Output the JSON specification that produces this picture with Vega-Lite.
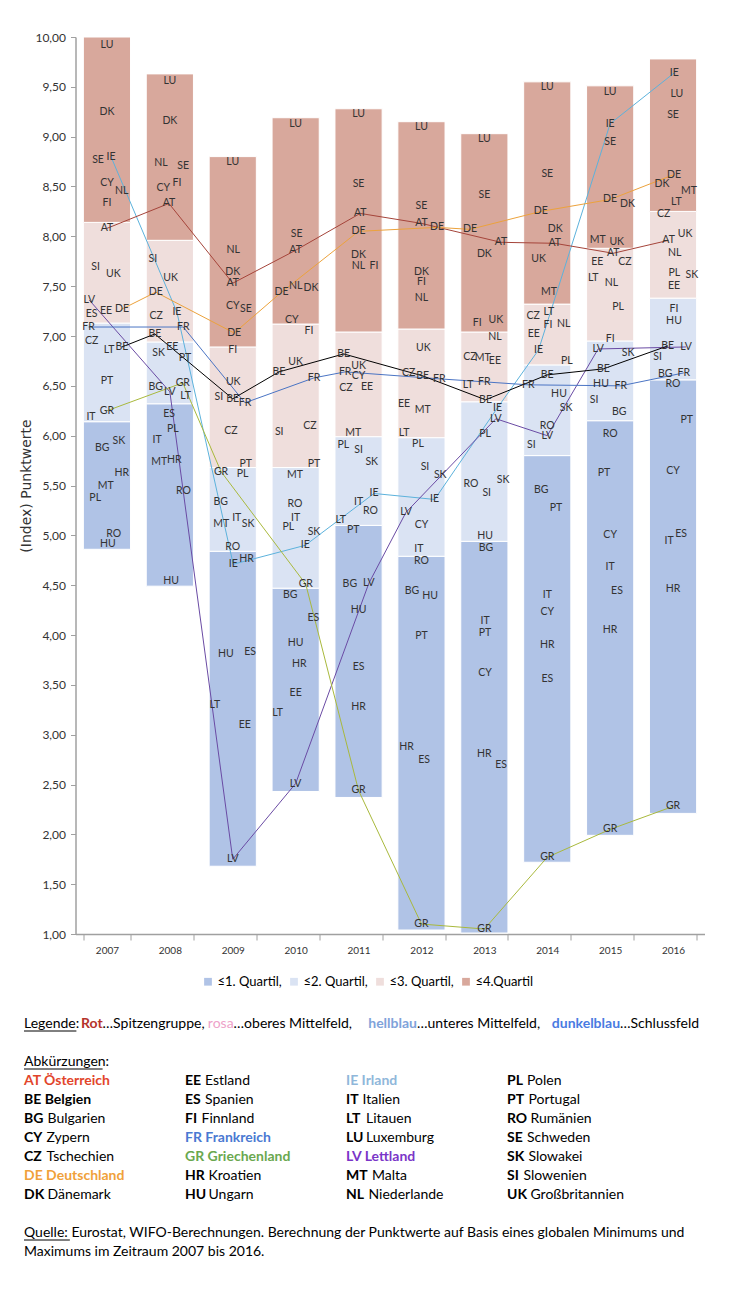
{
  "$schema": "https://vega.github.io/schema/vega-lite/v6.json",
  "width": 629,
  "height": 897,
  "autosize": {"type": "none"},
  "padding": {"left": 75.5, "top": 37, "right": 34.5, "bottom": 356},
  "background": "white",
  "config": {"view": {"stroke": null}},
  "datasets": {
    "bars": [
      {"year":"2007","q":"≤1. Quartil","v":4.86,"hi":6.14},{"year":"2007","q":"≤2. Quartil","v":6.14,"hi":7.13},{"year":"2007","q":"≤3. Quartil","v":7.13,"hi":8.14},{"year":"2007","q":"≤4.Quartil","v":8.14,"hi":10.0},
      {"year":"2008","q":"≤1. Quartil","v":4.49,"hi":6.32},{"year":"2008","q":"≤2. Quartil","v":6.32,"hi":6.94},{"year":"2008","q":"≤3. Quartil","v":6.94,"hi":7.96},{"year":"2008","q":"≤4.Quartil","v":7.96,"hi":9.63},
      {"year":"2009","q":"≤1. Quartil","v":1.68,"hi":4.84},{"year":"2009","q":"≤2. Quartil","v":4.84,"hi":5.68},{"year":"2009","q":"≤3. Quartil","v":5.68,"hi":6.89},{"year":"2009","q":"≤4.Quartil","v":6.89,"hi":8.8},
      {"year":"2010","q":"≤1. Quartil","v":2.43,"hi":4.47},{"year":"2010","q":"≤2. Quartil","v":4.47,"hi":5.68},{"year":"2010","q":"≤3. Quartil","v":5.68,"hi":7.12},{"year":"2010","q":"≤4.Quartil","v":7.12,"hi":9.19},
      {"year":"2011","q":"≤1. Quartil","v":2.37,"hi":5.1},{"year":"2011","q":"≤2. Quartil","v":5.1,"hi":5.99},{"year":"2011","q":"≤3. Quartil","v":5.99,"hi":7.04},{"year":"2011","q":"≤4.Quartil","v":7.04,"hi":9.28},
      {"year":"2012","q":"≤1. Quartil","v":1.04,"hi":4.79},{"year":"2012","q":"≤2. Quartil","v":4.79,"hi":5.98},{"year":"2012","q":"≤3. Quartil","v":5.98,"hi":7.07},{"year":"2012","q":"≤4.Quartil","v":7.07,"hi":9.15},
      {"year":"2013","q":"≤1. Quartil","v":1.01,"hi":4.94},{"year":"2013","q":"≤2. Quartil","v":4.94,"hi":6.34},{"year":"2013","q":"≤3. Quartil","v":6.34,"hi":7.04},{"year":"2013","q":"≤4.Quartil","v":7.04,"hi":9.03},
      {"year":"2014","q":"≤1. Quartil","v":1.72,"hi":5.8},{"year":"2014","q":"≤2. Quartil","v":5.8,"hi":6.71},{"year":"2014","q":"≤3. Quartil","v":6.71,"hi":7.32},{"year":"2014","q":"≤4.Quartil","v":7.32,"hi":9.55},
      {"year":"2015","q":"≤1. Quartil","v":1.99,"hi":6.15},{"year":"2015","q":"≤2. Quartil","v":6.15,"hi":6.95},{"year":"2015","q":"≤3. Quartil","v":6.95,"hi":7.88},{"year":"2015","q":"≤4.Quartil","v":7.88,"hi":9.51},
      {"year":"2016","q":"≤1. Quartil","v":2.21,"hi":6.56},{"year":"2016","q":"≤2. Quartil","v":6.56,"hi":7.38},{"year":"2016","q":"≤3. Quartil","v":7.38,"hi":8.25},{"year":"2016","q":"≤4.Quartil","v":8.25,"hi":9.78}
    ],
    "labels": [
      {"year":"2007","c":"LU","v":9.92,"o":0},{"year":"2007","c":"DK","v":9.25,"o":0},{"year":"2007","c":"SE","v":8.77,"o":-0.38},{"year":"2007","c":"IE","v":8.8,"o":0.17},{"year":"2007","c":"CY","v":8.54,"o":0},{"year":"2007","c":"NL","v":8.45,"o":0.63},{"year":"2007","c":"FI","v":8.33,"o":0},{"year":"2007","c":"AT","v":8.08,"o":0},{"year":"2007","c":"SI","v":7.69,"o":-0.48},{"year":"2007","c":"UK","v":7.62,"o":0.27},{"year":"2007","c":"LV","v":7.36,"o":-0.75},{"year":"2007","c":"ES","v":7.22,"o":-0.65},{"year":"2007","c":"EE","v":7.25,"o":-0.04},{"year":"2007","c":"DE","v":7.27,"o":0.64},{"year":"2007","c":"FR","v":7.09,"o":-0.78},{"year":"2007","c":"CZ","v":6.95,"o":-0.65},{"year":"2007","c":"LT","v":6.86,"o":0.09},{"year":"2007","c":"BE","v":6.89,"o":0.64},{"year":"2007","c":"PT","v":6.55,"o":0},{"year":"2007","c":"GR","v":6.25,"o":0},{"year":"2007","c":"IT","v":6.19,"o":-0.68},{"year":"2007","c":"BG","v":5.88,"o":-0.2},{"year":"2007","c":"SK","v":5.95,"o":0.51},{"year":"2007","c":"HR","v":5.63,"o":0.63},{"year":"2007","c":"MT","v":5.49,"o":-0.05},{"year":"2007","c":"PL","v":5.37,"o":-0.5},{"year":"2007","c":"RO","v":5.01,"o":0.29},{"year":"2007","c":"HU","v":4.91,"o":0.04},
      {"year":"2008","c":"LU","v":9.56,"o":0},{"year":"2008","c":"DK","v":9.16,"o":0},{"year":"2008","c":"NL","v":8.74,"o":-0.38},{"year":"2008","c":"SE","v":8.71,"o":0.57},{"year":"2008","c":"CY","v":8.48,"o":-0.28},{"year":"2008","c":"FI","v":8.54,"o":0.3},{"year":"2008","c":"AT","v":8.33,"o":-0.04},{"year":"2008","c":"SI","v":7.77,"o":-0.72},{"year":"2008","c":"UK","v":7.58,"o":0.03},{"year":"2008","c":"DE","v":7.44,"o":-0.6},{"year":"2008","c":"CZ","v":7.2,"o":-0.58},{"year":"2008","c":"IE","v":7.24,"o":0.3},{"year":"2008","c":"FR","v":7.09,"o":0.57},{"year":"2008","c":"BE","v":7.02,"o":-0.64},{"year":"2008","c":"SK","v":6.83,"o":-0.48},{"year":"2008","c":"EE","v":6.89,"o":0.1},{"year":"2008","c":"PT","v":6.78,"o":0.64},{"year":"2008","c":"BG","v":6.49,"o":-0.6},{"year":"2008","c":"LV","v":6.44,"o":0},{"year":"2008","c":"GR","v":6.53,"o":0.55},{"year":"2008","c":"LT","v":6.4,"o":0.67},{"year":"2008","c":"ES","v":6.22,"o":-0.03},{"year":"2008","c":"PL","v":6.07,"o":0.13},{"year":"2008","c":"IT","v":5.96,"o":-0.54},{"year":"2008","c":"MT","v":5.74,"o":-0.45},{"year":"2008","c":"HR","v":5.76,"o":0.19},{"year":"2008","c":"RO","v":5.44,"o":0.58},{"year":"2008","c":"HU","v":4.54,"o":0.05},
      {"year":"2009","c":"LU","v":8.75,"o":0},{"year":"2009","c":"NL","v":7.86,"o":0.02},{"year":"2009","c":"DK","v":7.64,"o":0},{"year":"2009","c":"AT","v":7.53,"o":0},{"year":"2009","c":"CY","v":7.3,"o":0},{"year":"2009","c":"SE","v":7.27,"o":0.56},{"year":"2009","c":"DE","v":7.03,"o":0.06},{"year":"2009","c":"FI","v":6.86,"o":0},{"year":"2009","c":"UK","v":6.54,"o":0.02},{"year":"2009","c":"SI","v":6.39,"o":-0.59},{"year":"2009","c":"BE","v":6.37,"o":0},{"year":"2009","c":"FR","v":6.33,"o":0.52},{"year":"2009","c":"CZ","v":6.05,"o":-0.08},{"year":"2009","c":"PT","v":5.72,"o":0.55},{"year":"2009","c":"GR","v":5.64,"o":-0.5},{"year":"2009","c":"PL","v":5.62,"o":0.42},{"year":"2009","c":"BG","v":5.33,"o":-0.51},{"year":"2009","c":"MT","v":5.11,"o":-0.49},{"year":"2009","c":"IT","v":5.17,"o":0.17},{"year":"2009","c":"SK","v":5.11,"o":0.65},{"year":"2009","c":"RO","v":4.88,"o":0},{"year":"2009","c":"IE","v":4.71,"o":0.02},{"year":"2009","c":"HR","v":4.76,"o":0.59},{"year":"2009","c":"HU","v":3.81,"o":-0.29},{"year":"2009","c":"ES","v":3.83,"o":0.74},{"year":"2009","c":"LT","v":3.3,"o":-0.76},{"year":"2009","c":"EE","v":3.1,"o":0.51},{"year":"2009","c":"LV","v":1.75,"o":0},
      {"year":"2010","c":"LU","v":9.13,"o":0},{"year":"2010","c":"SE","v":8.02,"o":0.04},{"year":"2010","c":"AT","v":7.86,"o":0},{"year":"2010","c":"DE","v":7.44,"o":-0.6},{"year":"2010","c":"NL","v":7.5,"o":0},{"year":"2010","c":"DK","v":7.48,"o":0.65},{"year":"2010","c":"CY","v":7.16,"o":-0.16},{"year":"2010","c":"FI","v":7.05,"o":0.57},{"year":"2010","c":"UK","v":6.74,"o":0},{"year":"2010","c":"BE","v":6.64,"o":-0.71},{"year":"2010","c":"FR","v":6.58,"o":0.78},{"year":"2010","c":"SI","v":6.04,"o":-0.7},{"year":"2010","c":"CZ","v":6.1,"o":0.61},{"year":"2010","c":"PT","v":5.72,"o":0.78},{"year":"2010","c":"MT","v":5.61,"o":-0.03},{"year":"2010","c":"RO","v":5.31,"o":-0.03},{"year":"2010","c":"IT","v":5.17,"o":0},{"year":"2010","c":"PL","v":5.08,"o":-0.31},{"year":"2010","c":"SK","v":5.03,"o":0.78},{"year":"2010","c":"IE","v":4.9,"o":0.41},{"year":"2010","c":"GR","v":4.51,"o":0.43},{"year":"2010","c":"BG","v":4.4,"o":-0.23},{"year":"2010","c":"ES","v":4.17,"o":0.75},{"year":"2010","c":"HU","v":3.92,"o":0},{"year":"2010","c":"HR","v":3.71,"o":0.15},{"year":"2010","c":"EE","v":3.42,"o":0},{"year":"2010","c":"LT","v":3.22,"o":-0.77},{"year":"2010","c":"LV","v":2.51,"o":0},
      {"year":"2011","c":"LU","v":9.23,"o":0},{"year":"2011","c":"SE","v":8.53,"o":0},{"year":"2011","c":"AT","v":8.23,"o":0.07},{"year":"2011","c":"DE","v":8.05,"o":0},{"year":"2011","c":"DK","v":7.81,"o":0},{"year":"2011","c":"NL","v":7.7,"o":0},{"year":"2011","c":"FI","v":7.7,"o":0.66},{"year":"2011","c":"BE","v":6.82,"o":-0.63},{"year":"2011","c":"UK","v":6.7,"o":0},{"year":"2011","c":"FR","v":6.64,"o":-0.57},{"year":"2011","c":"CY","v":6.6,"o":0},{"year":"2011","c":"CZ","v":6.48,"o":-0.54},{"year":"2011","c":"EE","v":6.49,"o":0.36},{"year":"2011","c":"MT","v":6.03,"o":-0.23},{"year":"2011","c":"PL","v":5.91,"o":-0.65},{"year":"2011","c":"SI","v":5.86,"o":0},{"year":"2011","c":"SK","v":5.74,"o":0.56},{"year":"2011","c":"IE","v":5.42,"o":0.66},{"year":"2011","c":"IT","v":5.33,"o":0},{"year":"2011","c":"RO","v":5.24,"o":0.51},{"year":"2011","c":"LT","v":5.15,"o":-0.76},{"year":"2011","c":"PT","v":5.05,"o":-0.23},{"year":"2011","c":"BG","v":4.51,"o":-0.37},{"year":"2011","c":"LV","v":4.52,"o":0.44},{"year":"2011","c":"HU","v":4.25,"o":0},{"year":"2011","c":"ES","v":3.68,"o":0},{"year":"2011","c":"HR","v":3.28,"o":0},{"year":"2011","c":"GR","v":2.44,"o":0},
      {"year":"2012","c":"LU","v":9.1,"o":0},{"year":"2012","c":"SE","v":8.3,"o":0},{"year":"2012","c":"AT","v":8.13,"o":0},{"year":"2012","c":"DE","v":8.09,"o":0.66},{"year":"2012","c":"DK","v":7.64,"o":0},{"year":"2012","c":"FI","v":7.54,"o":0},{"year":"2012","c":"NL","v":7.38,"o":0},{"year":"2012","c":"UK","v":6.88,"o":0.08},{"year":"2012","c":"CZ","v":6.63,"o":-0.54},{"year":"2012","c":"BE","v":6.6,"o":0.05},{"year":"2012","c":"FR","v":6.57,"o":0.76},{"year":"2012","c":"EE","v":6.32,"o":-0.74},{"year":"2012","c":"MT","v":6.26,"o":0.05},{"year":"2012","c":"LT","v":6.03,"o":-0.74},{"year":"2012","c":"PL","v":5.92,"o":-0.15},{"year":"2012","c":"SI","v":5.69,"o":0.15},{"year":"2012","c":"SK","v":5.61,"o":0.8},{"year":"2012","c":"IE","v":5.36,"o":0.56},{"year":"2012","c":"LV","v":5.23,"o":-0.66},{"year":"2012","c":"CY","v":5.1,"o":0},{"year":"2012","c":"IT","v":4.86,"o":-0.11},{"year":"2012","c":"RO","v":4.74,"o":0},{"year":"2012","c":"BG","v":4.44,"o":-0.4},{"year":"2012","c":"HU","v":4.39,"o":0.37},{"year":"2012","c":"PT","v":3.99,"o":0},{"year":"2012","c":"HR","v":2.88,"o":-0.63},{"year":"2012","c":"ES","v":2.75,"o":0.11},{"year":"2012","c":"GR","v":1.1,"o":0},
      {"year":"2013","c":"LU","v":8.98,"o":0},{"year":"2013","c":"SE","v":8.41,"o":0},{"year":"2013","c":"DE","v":8.07,"o":-0.61},{"year":"2013","c":"AT","v":7.94,"o":0.71},{"year":"2013","c":"DK","v":7.82,"o":0},{"year":"2013","c":"UK","v":7.16,"o":0.49},{"year":"2013","c":"FI","v":7.13,"o":-0.3},{"year":"2013","c":"NL","v":6.99,"o":0.45},{"year":"2013","c":"CZ","v":6.79,"o":-0.61},{"year":"2013","c":"MT","v":6.78,"o":-0.07},{"year":"2013","c":"EE","v":6.75,"o":0.45},{"year":"2013","c":"LT","v":6.51,"o":-0.69},{"year":"2013","c":"FR","v":6.54,"o":0},{"year":"2013","c":"BE","v":6.36,"o":0.05},{"year":"2013","c":"IE","v":6.28,"o":0.56},{"year":"2013","c":"LV","v":6.17,"o":0.49},{"year":"2013","c":"PL","v":6.02,"o":0.03},{"year":"2013","c":"SK","v":5.56,"o":0.8},{"year":"2013","c":"SI","v":5.42,"o":0.1},{"year":"2013","c":"RO","v":5.52,"o":-0.57},{"year":"2013","c":"HU","v":4.99,"o":0.03},{"year":"2013","c":"BG","v":4.87,"o":0.07},{"year":"2013","c":"IT","v":4.14,"o":0.03},{"year":"2013","c":"PT","v":4.02,"o":0.03},{"year":"2013","c":"CY","v":3.62,"o":0.03},{"year":"2013","c":"HR","v":2.81,"o":0},{"year":"2013","c":"ES","v":2.7,"o":0.71},{"year":"2013","c":"GR","v":1.05,"o":0},
      {"year":"2014","c":"LU","v":9.5,"o":0},{"year":"2014","c":"SE","v":8.63,"o":0},{"year":"2014","c":"DE","v":8.25,"o":-0.27},{"year":"2014","c":"DK","v":8.07,"o":0.34},{"year":"2014","c":"AT","v":7.93,"o":0.32},{"year":"2014","c":"UK","v":7.77,"o":-0.37},{"year":"2014","c":"MT","v":7.44,"o":0.07},{"year":"2014","c":"CZ","v":7.2,"o":-0.6},{"year":"2014","c":"LT","v":7.24,"o":0.07},{"year":"2014","c":"FI","v":7.11,"o":0.03},{"year":"2014","c":"NL","v":7.12,"o":0.7},{"year":"2014","c":"EE","v":7.02,"o":-0.57},{"year":"2014","c":"IE","v":6.86,"o":-0.37},{"year":"2014","c":"PL","v":6.75,"o":0.83},{"year":"2014","c":"BE","v":6.61,"o":0},{"year":"2014","c":"FR","v":6.51,"o":-0.81},{"year":"2014","c":"HU","v":6.42,"o":0.5},{"year":"2014","c":"SK","v":6.28,"o":0.8},{"year":"2014","c":"RO","v":6.1,"o":0},{"year":"2014","c":"LV","v":6.0,"o":0},{"year":"2014","c":"SI","v":5.91,"o":-0.68},{"year":"2014","c":"BG","v":5.45,"o":-0.26},{"year":"2014","c":"PT","v":5.27,"o":0.37},{"year":"2014","c":"IT","v":4.4,"o":0},{"year":"2014","c":"CY","v":4.23,"o":0},{"year":"2014","c":"HR","v":3.9,"o":0},{"year":"2014","c":"ES","v":3.56,"o":0},{"year":"2014","c":"GR","v":1.77,"o":0},
      {"year":"2015","c":"LU","v":9.45,"o":0},{"year":"2015","c":"IE","v":9.13,"o":0},{"year":"2015","c":"SE","v":8.95,"o":0},{"year":"2015","c":"DE","v":8.37,"o":0},{"year":"2015","c":"DK","v":8.32,"o":0.74},{"year":"2015","c":"MT","v":7.96,"o":-0.53},{"year":"2015","c":"UK","v":7.94,"o":0.28},{"year":"2015","c":"AT","v":7.83,"o":0.13},{"year":"2015","c":"EE","v":7.74,"o":-0.55},{"year":"2015","c":"CZ","v":7.74,"o":0.63},{"year":"2015","c":"LT","v":7.58,"o":-0.72},{"year":"2015","c":"NL","v":7.53,"o":0.06},{"year":"2015","c":"PL","v":7.29,"o":0.34},{"year":"2015","c":"FI","v":6.97,"o":0},{"year":"2015","c":"LV","v":6.87,"o":-0.51},{"year":"2015","c":"SK","v":6.83,"o":0.76},{"year":"2015","c":"BE","v":6.67,"o":-0.29},{"year":"2015","c":"HU","v":6.52,"o":-0.39},{"year":"2015","c":"FR","v":6.5,"o":0.45},{"year":"2015","c":"SI","v":6.36,"o":-0.68},{"year":"2015","c":"BG","v":6.24,"o":0.39},{"year":"2015","c":"RO","v":6.02,"o":0},{"year":"2015","c":"PT","v":5.63,"o":-0.26},{"year":"2015","c":"CY","v":5.0,"o":0},{"year":"2015","c":"IT","v":4.68,"o":0},{"year":"2015","c":"ES","v":4.44,"o":0.29},{"year":"2015","c":"HR","v":4.05,"o":0},{"year":"2015","c":"GR","v":2.05,"o":0},
      {"year":"2016","c":"IE","v":9.64,"o":0.05},{"year":"2016","c":"LU","v":9.43,"o":0.16},{"year":"2016","c":"SE","v":9.22,"o":0},{"year":"2016","c":"DE","v":8.62,"o":0.04},{"year":"2016","c":"DK","v":8.53,"o":-0.47},{"year":"2016","c":"MT","v":8.45,"o":0.68},{"year":"2016","c":"LT","v":8.34,"o":0.14},{"year":"2016","c":"CZ","v":8.22,"o":-0.4},{"year":"2016","c":"AT","v":7.96,"o":-0.19},{"year":"2016","c":"UK","v":8.02,"o":0.51},{"year":"2016","c":"NL","v":7.83,"o":0.07},{"year":"2016","c":"PL","v":7.63,"o":0.05},{"year":"2016","c":"SK","v":7.61,"o":0.8},{"year":"2016","c":"EE","v":7.5,"o":0.04},{"year":"2016","c":"FI","v":7.27,"o":0.04},{"year":"2016","c":"HU","v":7.15,"o":0.04},{"year":"2016","c":"BE","v":6.9,"o":-0.23},{"year":"2016","c":"LV","v":6.89,"o":0.55},{"year":"2016","c":"SI","v":6.79,"o":-0.66},{"year":"2016","c":"BG","v":6.62,"o":-0.33},{"year":"2016","c":"FR","v":6.63,"o":0.46},{"year":"2016","c":"RO","v":6.52,"o":0},{"year":"2016","c":"PT","v":6.16,"o":0.58},{"year":"2016","c":"CY","v":5.65,"o":0},{"year":"2016","c":"IT","v":4.94,"o":-0.17},{"year":"2016","c":"ES","v":5.01,"o":0.34},{"year":"2016","c":"HR","v":4.46,"o":0},{"year":"2016","c":"GR","v":2.28,"o":0}
    ],
    "segs": [
      {"seq":1,"t":"Legende: "},{"seq":2,"t":"Rot"},{"seq":3,"t":"…Spitzengruppe, "},{"seq":4,"t":"rosa"},{"seq":5,"t":"…oberes Mittelfeld, "},{"seq":6,"t":"hellblau"},{"seq":7,"t":"…unteres Mittelfeld, "},{"seq":8,"t":"dunkelblau"},{"seq":9,"t":"…Schlussfeld"}
    ],
    "underlined": [
      {"line":0,"w":"Legende:"},{"line":2,"w":"Abkürzungen:"},{"line":11,"w":"Quelle:"}
    ],
    "table": [
      {"line":3,"col":0,"code":"AT","name":"Österreich"},{"line":4,"col":0,"code":"BE","name":"Belgien"},{"line":5,"col":0,"code":"BG","name":"Bulgarien"},{"line":6,"col":0,"code":"CY","name":"Zypern"},{"line":7,"col":0,"code":"CZ","name":"Tschechien"},{"line":8,"col":0,"code":"DE","name":"Deutschland"},{"line":9,"col":0,"code":"DK","name":"Dänemark"},
      {"line":3,"col":1,"code":"EE","name":"Estland"},{"line":4,"col":1,"code":"ES","name":"Spanien"},{"line":5,"col":1,"code":"FI","name":"Finnland"},{"line":6,"col":1,"code":"FR","name":"Frankreich"},{"line":7,"col":1,"code":"GR","name":"Griechenland"},{"line":8,"col":1,"code":"HR","name":"Kroatien"},{"line":9,"col":1,"code":"HU","name":"Ungarn"},
      {"line":3,"col":2,"code":"IE","name":"Irland"},{"line":4,"col":2,"code":"IT","name":"Italien"},{"line":5,"col":2,"code":"LT","name":"Litauen"},{"line":6,"col":2,"code":"LU","name":"Luxemburg"},{"line":7,"col":2,"code":"LV","name":"Lettland"},{"line":8,"col":2,"code":"MT","name":"Malta"},{"line":9,"col":2,"code":"NL","name":"Niederlande"},
      {"line":3,"col":3,"code":"PL","name":"Polen"},{"line":4,"col":3,"code":"PT","name":"Portugal"},{"line":5,"col":3,"code":"RO","name":"Rumänien"},{"line":6,"col":3,"code":"SE","name":"Schweden"},{"line":7,"col":3,"code":"SK","name":"Slowakei"},{"line":8,"col":3,"code":"SI","name":"Slowenien"},{"line":9,"col":3,"code":"UK","name":"Großbritannien"}
    ],
    "plain": [
      {"line":2,"col":0,"t":"Abkürzungen:"},
      {"line":11,"col":0,"t":"Quelle: Eurostat, WIFO-Berechnungen. Berechnung der Punktwerte auf Basis eines globalen Minimums und"},
      {"line":12,"col":0,"t":"Maximums im Zeitraum 2007 bis 2016."}
    ]
  },
  "layer": [
    {
      "data": {"name": "bars"},
      "mark": {"type": "bar", "stroke": "white", "strokeWidth": 1},
      "encoding": {
        "x": {"field": "year", "type": "ordinal",
              "scale": {"paddingInner": 0.25, "paddingOuter": 0.125},
              "axis": {"title": null, "tickBand": "extent", "labelAngle": 0, "labelFont": "Lato", "labelFontSize": 10, "labelColor": "#333333", "domainColor": "#a0a0a0", "domainWidth": 1.5, "tickColor": "#a0a0a0", "tickWidth": 1, "tickSize": 6, "labelPadding": 5}},
        "y": {"field": "v", "type": "quantitative",
              "scale": {"domain": [1, 10], "nice": false, "zero": false},
              "axis": {"title": "(Index) Punktwerte", "values": [1,1.5,2,2.5,3,3.5,4,4.5,5,5.5,6,6.5,7,7.5,8,8.5,9,9.5,10],
                       "labelExpr": "replace(format(datum.value, '.2f'), '.', ',')", "grid": false,
                       "labelFont": "Lato", "labelFontSize": 12, "labelColor": "#333333", "labelPadding": 5,
                       "domainColor": "#a0a0a0", "domainWidth": 1.5, "tickColor": "#a0a0a0", "tickSize": 5,
                       "titleFont": "DejaVu Sans", "titleFontSize": 14, "titleFontWeight": "normal", "titleColor": "#333333", "titlePadding": 1}},
        "y2": {"field": "hi"},
        "fill": {"field": "q", "type": "nominal",
                 "scale": {"domain": ["≤1. Quartil", "≤2. Quartil", "≤3. Quartil", "≤4.Quartil"], "range": ["#b0c3e6", "#dae3f3", "#efdedc", "#d8a89c"]},
                 "legend": {"orient": "none", "legendX": 126, "legendY": 938, "direction": "horizontal", "title": null,
                            "symbolType": "square", "symbolSize": 60, "symbolStrokeWidth": 0, "labelFont": "Lato", "labelFontSize": 13,
                            "labelColor": "#000000", "labelOffset": 3, "columnPadding": 5,
                            "labelExpr": "datum.label == '≤4.Quartil' ? datum.label : datum.label + ','"}}
      }
    },
    {
      "data": {"name": "labels"},
      "transform": [{"calculate": "toNumber(datum.year) + datum.o * 0.3736", "as": "xp"}],
      "encoding": {
        "x": {"field": "xp", "type": "quantitative", "scale": {"domain": [2006.5, 2016.5], "nice": false, "zero": false}, "axis": null},
        "y": {"field": "v", "type": "quantitative", "scale": {"domain": [1, 10], "nice": false, "zero": false}, "axis": null}
      },
      "layer": [
        {
          "transform": [{"filter": {"field": "c", "oneOf": ["AT", "BE", "DE", "FR", "GR", "IE", "LV"]}}],
          "mark": {"type": "line", "strokeWidth": 1},
          "encoding": {
            "stroke": {"field": "c", "type": "nominal",
                       "scale": {"domain": ["AT", "BE", "DE", "FR", "GR", "IE", "LV"], "range": ["#a5443a", "#000000", "#eca23c", "#4a74c4", "#a9b93c", "#5cb2dc", "#6a4ba4"]},
                       "legend": null}
          }
        },
        {
          "mark": {"type": "text", "font": "Lato", "fontSize": 10.5, "baseline": "middle", "align": "center", "fill": "#333333"},
          "encoding": {"text": {"field": "c"}}
        }
      ]
    },
    {
      "layer": [
        {
          "data": {"name": "segs"},
          "transform": [
            {"calculate": "length(datum.t)", "as": "n"},
            {"window": [{"op": "sum", "field": "n", "as": "cum"}], "sort": [{"field": "seq"}]},
            {"calculate": "datum.cum - datum.n", "as": "start"}
          ],
          "encoding": {
            "y": {"datum": 0, "type": "quantitative", "scale": {"domain": [0, 12], "range": [987, 1215], "nice": false, "zero": false}, "axis": null},
            "text": {"field": "t"},
            "color": {"field": "t", "type": "nominal",
                      "scale": {"domain": ["Legende: ", "Rot", "…Spitzengruppe, ", "rosa", "…oberes Mittelfeld, ", "hellblau", "…unteres Mittelfeld, ", "dunkelblau", "…Schlussfeld"],
                                "range": ["#000000", "#b5332a", "#000000", "#eea2c9", "#000000", "#7fa3da", "#000000", "#4a7be2", "#000000"]},
                      "legend": null}
          },
          "layer": [
            {"transform": [{"filter": {"not": {"field": "t", "oneOf": ["Rot", "rosa", "hellblau", "dunkelblau"]}}}],
             "mark": {"type": "text", "align": "left", "baseline": "middle", "font": "Lato", "fontSize": 14},
             "encoding": {"x": {"field": "start", "type": "quantitative", "scale": {"domain": [0, 105], "range": [-51.5, 636.25]}, "axis": null}}},
            {"transform": [{"filter": {"field": "t", "oneOf": ["Rot", "hellblau", "dunkelblau"]}}],
             "mark": {"type": "text", "align": "right", "baseline": "middle", "font": "Lato", "fontSize": 14, "fontWeight": "bold"},
             "encoding": {"x": {"field": "cum", "type": "quantitative", "scale": {"domain": [0, 105], "range": [-51.5, 636.25]}, "axis": null}}},
            {"transform": [{"filter": {"field": "t", "equal": "rosa"}}],
             "mark": {"type": "text", "align": "right", "baseline": "middle", "font": "Lato", "fontSize": 14},
             "encoding": {"x": {"field": "cum", "type": "quantitative", "scale": {"domain": [0, 105], "range": [-51.5, 636.25]}, "axis": null}}}
          ]
        },
        {
          "data": {"name": "underlined"},
          "transform": [{"calculate": "length(datum.w)", "as": "n"}],
          "mark": {"type": "rule", "stroke": "#000000", "strokeWidth": 1, "yOffset": 7},
          "encoding": {
            "x": {"field": "n", "type": "quantitative", "scale": {"domain": [0, 105], "range": [-51.5, 636.25]}, "axis": null},
            "x2": {"datum": 0},
            "y": {"field": "line", "type": "quantitative", "scale": {"domain": [0, 12], "range": [987, 1215], "nice": false, "zero": false}, "axis": null}
          }
        }
      ]
    },
    {
      "encoding": {
        "x": {"field": "col", "type": "quantitative", "scale": {"domain": [0, 3], "range": [-51.5, 431.5]}, "axis": null},
        "y": {"field": "line", "type": "quantitative", "scale": {"domain": [0, 12], "range": [987, 1215], "nice": false, "zero": false}, "axis": null}
      },
      "layer": [
        {"data": {"name": "table"},
         "transform": [{"filter": {"field": "code", "oneOf": ["AT", "BE", "DE", "FR", "GR", "IE", "LV"]}}, {"calculate": "datum.code + ' ' + datum.name", "as": "full"}],
         "mark": {"type": "text", "align": "left", "baseline": "middle", "font": "Lato", "fontSize": 14, "fontWeight": "bold"},
         "encoding": {
           "text": {"field": "full"},
           "color": {"field": "code", "type": "nominal",
                     "scale": {"domain": ["AT", "BE", "DE", "FR", "GR", "IE", "LV"], "range": ["#e2452b", "#000000", "#f0a13a", "#4a79d2", "#6aa84f", "#8fb7da", "#7a35c8"]},
                     "legend": null}
         }},
        {"data": {"name": "table"},
         "transform": [{"filter": {"not": {"field": "code", "oneOf": ["AT", "BE", "DE", "FR", "GR", "IE", "LV"]}}}],
         "mark": {"type": "text", "align": "left", "baseline": "middle", "font": "Lato", "fontSize": 14, "fontWeight": "bold", "fill": "#000000"},
         "encoding": {"text": {"field": "code"}}},
        {"data": {"name": "table"},
         "transform": [{"filter": {"field": "code", "oneOf": ["FI", "IT", "SI"]}}],
         "mark": {"type": "text", "align": "left", "baseline": "middle", "font": "Lato", "fontSize": 14, "fill": "#000000", "dx": 16.5},
         "encoding": {"text": {"field": "name"}}},
        {"data": {"name": "table"},
         "transform": [{"filter": {"field": "code", "oneOf": ["EE", "ES", "LT", "SE", "PL", "LU"]}}],
         "mark": {"type": "text", "align": "left", "baseline": "middle", "font": "Lato", "fontSize": 14, "fill": "#000000", "dx": 20},
         "encoding": {"text": {"field": "name"}}},
        {"data": {"name": "table"},
         "transform": [{"filter": {"field": "code", "oneOf": ["PT", "SK"]}}],
         "mark": {"type": "text", "align": "left", "baseline": "middle", "font": "Lato", "fontSize": 14, "fill": "#000000", "dx": 21.5},
         "encoding": {"text": {"field": "name"}}},
        {"data": {"name": "table"},
         "transform": [{"filter": {"field": "code", "oneOf": ["CY", "CZ", "NL"]}}],
         "mark": {"type": "text", "align": "left", "baseline": "middle", "font": "Lato", "fontSize": 14, "fill": "#000000", "dx": 22.5},
         "encoding": {"text": {"field": "name"}}},
        {"data": {"name": "table"},
         "transform": [{"filter": {"field": "code", "oneOf": ["BG", "DK", "HR", "HU", "RO", "UK"]}}],
         "mark": {"type": "text", "align": "left", "baseline": "middle", "font": "Lato", "fontSize": 14, "fill": "#000000", "dx": 23.5},
         "encoding": {"text": {"field": "name"}}},
        {"data": {"name": "table"},
         "transform": [{"filter": {"field": "code", "equal": "MT"}}],
         "mark": {"type": "text", "align": "left", "baseline": "middle", "font": "Lato", "fontSize": 14, "fill": "#000000", "dx": 26},
         "encoding": {"text": {"field": "name"}}},
        {"data": {"name": "plain"},
         "mark": {"type": "text", "align": "left", "baseline": "middle", "font": "Lato", "fontSize": 14, "fill": "#000000"},
         "encoding": {"text": {"field": "t"}}}
      ]
    }
  ],
  "resolve": {"scale": {"x": "independent", "y": "independent", "color": "independent"}, "axis": {"x": "independent", "y": "independent"}}
}
